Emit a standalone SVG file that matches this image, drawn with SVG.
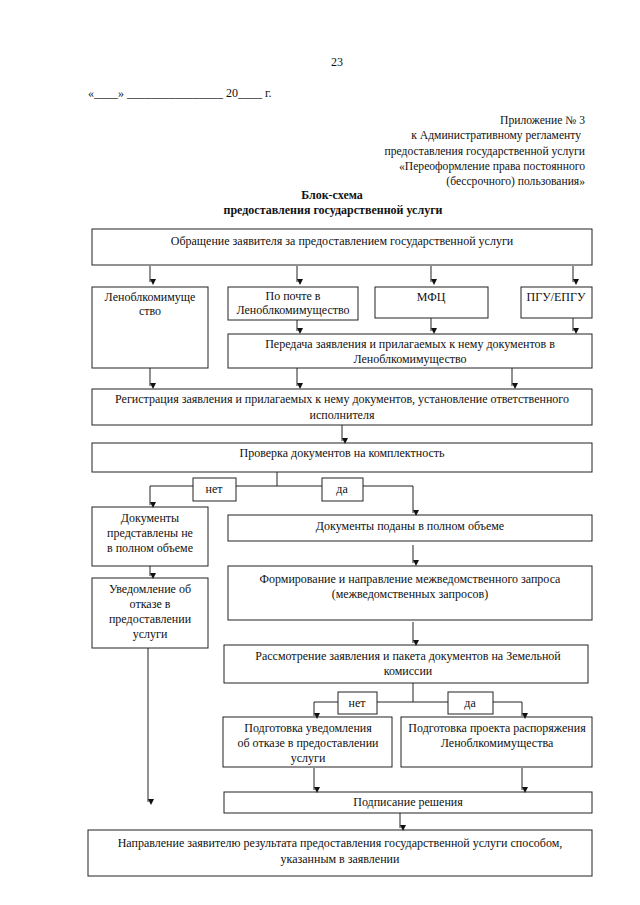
<svg xmlns="http://www.w3.org/2000/svg" width="640" height="905" viewBox="0 0 640 905">
<style>
text{font-family:"Liberation Serif","Times New Roman",serif;font-size:12px;fill:#111}
.c{text-anchor:middle}
.r{text-anchor:end}
.h{font-size:11.6px}
.b{font-weight:bold}
.box{fill:none;stroke:#222;stroke-width:1}
.lb{fill:#fff;stroke:#222;stroke-width:1}
.ln{fill:none;stroke:#222;stroke-width:1}
.ar{fill:none;stroke:#222;stroke-width:1;marker-end:url(#ah)}
</style>
<defs>
<marker id="ah" viewBox="0 0 8 8" refX="4" refY="8" markerWidth="6" markerHeight="6" markerUnits="userSpaceOnUse" orient="auto-start-reverse">
<path d="M0,0 L8,0 L4,8 z" fill="#111" transform="rotate(-90 4 4)"/>
</marker>
</defs>
<rect width="640" height="905" fill="#fff"/>
<g id="header">
<text x="337" y="66" class="c">23</text>
<text x="88" y="97">«____» ________________ 20____ г.</text>
<text x="585" y="124" class="r h">Приложение № 3</text>
<text x="581" y="139" class="r h">к Административному регламенту</text>
<text x="585" y="155" class="r h">предоставления государственной услуги</text>
<text x="585" y="170" class="r h">«Переоформление права постоянного</text>
<text x="585" y="185" class="r h">(бессрочного) пользования»</text>
<text x="332" y="199" class="c b">Блок-схема</text>
<text x="333" y="214" class="c b">предоставления государственной услуги</text>
</g>
<g id="connectors">
<path class="ar" d="M150,266 V282"/>
<path class="ar" d="M297,266 V282"/>
<path class="ar" d="M431,266 V282"/>
<path class="ar" d="M573,266 V282"/>
<path class="ar" d="M297,320 V331"/>
<path class="ar" d="M431,318 V331"/>
<path class="ar" d="M573,318 V331"/>
<path class="ar" d="M150,368 V386"/>
<path class="ar" d="M297,368 V386"/>
<path class="ar" d="M512,368 V386"/>
<path class="ar" d="M342,425 V441"/>
<path class="ln" d="M277,472 V486 M150,486 H413"/>
<path class="ar" d="M150,486 V505"/>
<path class="ar" d="M413,486 V513"/>
<path class="ar" d="M413,545 V563"/>
<path class="ar" d="M150,566 V576"/>
<path class="ar" d="M413,622 V643"/>
<path class="ln" d="M413,683 V702 M314,702 H522"/>
<path class="ar" d="M314,702 V716"/>
<path class="ar" d="M522,702 V716"/>
<path class="ar" d="M148,648 V802"/>
<path class="ar" d="M314,768 V790"/>
<path class="ar" d="M522,768 V790"/>
<path class="ar" d="M400,813 V828"/>
</g>
<g id="n1"><rect class="box" x="92" y="229" width="500" height="36"/><text x="342" y="245" class="c">Обращение заявителя за предоставлением государственной услуги</text></g>
<g id="n2"><rect class="box" x="92" y="287" width="116" height="81"/><text x="150" y="301" class="c">Леноблкомимуще</text><text x="150" y="315" class="c">ство</text></g>
<g id="n3"><rect class="box" x="228" y="287" width="130" height="33"/><text x="293" y="300" class="c">По почте в</text><text x="293" y="314" class="c">Леноблкомимущество</text></g>
<g id="n4"><rect class="box" x="375" y="287" width="113" height="31"/><text x="431" y="301" class="c">МФЦ</text></g>
<g id="n5"><rect class="box" x="521" y="287" width="71" height="31"/><text x="556" y="301" class="c">ПГУ/ЕПГУ</text></g>
<g id="n6"><rect class="box" x="228" y="334" width="364" height="34"/><text x="410" y="348" class="c">Передача заявления и прилагаемых к нему документов в</text><text x="410" y="363" class="c">Леноблкомимущество</text></g>
<g id="n7"><rect class="box" x="92" y="389" width="500" height="36"/><text x="342" y="403" class="c">Регистрация заявления и прилагаемых к нему документов, установление ответственного</text><text x="342" y="419" class="c">исполнителя</text></g>
<g id="n8"><rect class="box" x="92" y="443" width="500" height="29"/><text x="342" y="457" class="c">Проверка документов на комплектность</text></g>
<g id="l1"><rect class="lb" x="193" y="478" width="43" height="23"/><text x="214" y="493" class="c">нет</text></g>
<g id="l2"><rect class="lb" x="322" y="478" width="41" height="23"/><text x="342" y="493" class="c">да</text></g>
<g id="n9"><rect class="box" x="92" y="507" width="116" height="59"/><text x="150" y="522" class="c">Документы</text><text x="150" y="537" class="c">представлены не</text><text x="150" y="552" class="c">в полном объеме</text></g>
<g id="n10"><rect class="box" x="228" y="515" width="364" height="26"/><text x="410" y="530" class="c">Документы поданы в полном объеме</text></g>
<g id="n11"><rect class="box" x="228" y="566" width="364" height="54"/><text x="410" y="583" class="c">Формирование и направление межведомственного запроса</text><text x="410" y="598" class="c">(межведомственных запросов)</text></g>
<g id="n12"><rect class="box" x="92" y="578" width="116" height="70"/><text x="150" y="593" class="c">Уведомление об</text><text x="150" y="608" class="c">отказе в</text><text x="150" y="623" class="c">предоставлении</text><text x="150" y="638" class="c">услуги</text></g>
<g id="n13"><rect class="box" x="224" y="645" width="364" height="38"/><text x="408" y="660" class="c">Рассмотрение заявления и пакета документов на Земельной</text><text x="408" y="675" class="c">комиссии</text></g>
<g id="l3"><rect class="lb" x="338" y="692" width="39" height="22"/><text x="357" y="707" class="c">нет</text></g>
<g id="l4"><rect class="lb" x="448" y="692" width="45" height="22"/><text x="470" y="707" class="c">да</text></g>
<g id="n14"><rect class="box" x="223" y="717" width="169" height="50"/><text x="308" y="732" class="c">Подготовка уведомления</text><text x="308" y="747" class="c">об отказе в предоставлении</text><text x="308" y="762" class="c">услуги</text></g>
<g id="n15"><rect class="box" x="401" y="717" width="191" height="50"/><text x="497" y="732" class="c">Подготовка проекта распоряжения</text><text x="497" y="747" class="c">Леноблкомимущества</text></g>
<g id="n16"><rect class="box" x="224" y="792" width="368" height="21"/><text x="408" y="806" class="c">Подписание решения</text></g>
<g id="n17"><rect class="box" x="88" y="830" width="504" height="46"/><text x="340" y="847" class="c">Направление заявителю результата предоставления государственной услуги способом,</text><text x="340" y="863" class="c">указанным в заявлении</text></g>
</svg>
